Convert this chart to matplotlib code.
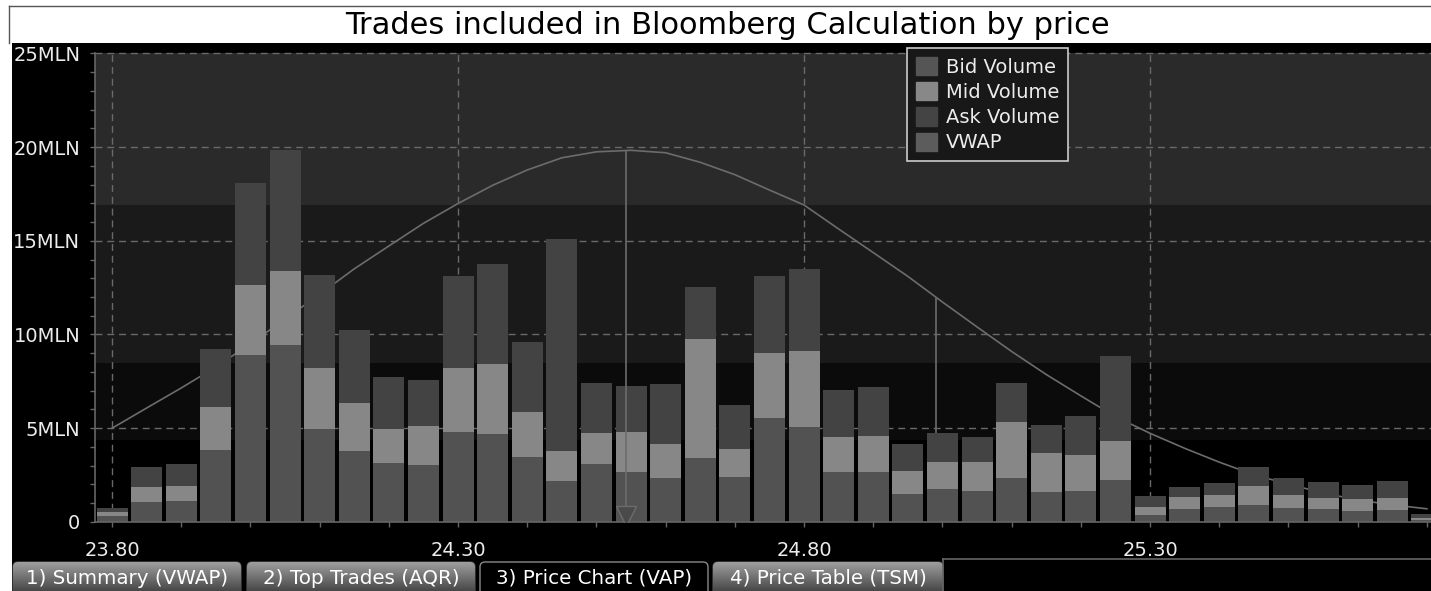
import matplotlib as mpl
mpl.use('Agg')
import matplotlib.pyplot as plt
import numpy as np
from matplotlib.patches import Rectangle, FancyBboxPatch, Patch
from matplotlib.ticker import FixedLocator, MultipleLocator, FuncFormatter

# price buckets (one bar per 0.05)
prices = [23.80, 23.85, 23.90, 23.95, 24.00, 24.05, 24.10, 24.15, 24.20, 24.25,
          24.30, 24.35, 24.40, 24.45, 24.50, 24.55, 24.60, 24.65, 24.70, 24.75,
          24.80, 24.85, 24.90, 24.95, 25.00, 25.05, 25.10, 25.15, 25.20, 25.25,
          25.30, 25.35, 25.40, 25.45, 25.50, 25.55, 25.60, 25.65, 25.70]
price_ticks = [23.80, 24.30, 24.80, 25.30]
volume_ticks = [0, 5, 10, 15, 20, 25]

# volumes in millions
bid_volume = [0.32, 1.05, 1.10, 3.81, 8.92, 9.42, 4.97, 3.79, 3.15, 3.01,
              4.81, 4.70, 3.47, 2.17, 3.10, 2.67, 2.35, 3.42, 2.39, 5.54,
              5.04, 2.68, 2.68, 1.46, 1.73, 1.64, 2.34, 1.60, 1.66, 2.23,
              0.37, 0.66, 0.79, 0.91, 0.72, 0.70, 0.57, 0.62, 0.10]
mid_volume = [0.18, 0.79, 0.80, 2.33, 3.70, 3.95, 3.25, 2.53, 1.78, 2.10,
              3.41, 3.70, 2.40, 1.62, 1.65, 2.13, 1.80, 6.33, 1.48, 3.48,
              4.09, 1.86, 1.90, 1.26, 1.47, 1.56, 2.98, 2.05, 1.92, 2.08,
              0.40, 0.67, 0.64, 0.98, 0.71, 0.57, 0.64, 0.65, 0.08]
ask_volume = [0.25, 1.08, 1.20, 3.10, 5.45, 6.48, 4.94, 3.90, 2.81, 2.46,
              4.91, 5.38, 3.74, 11.30, 2.67, 2.46, 3.19, 2.78, 2.34, 4.10,
              4.38, 2.49, 2.63, 1.43, 1.54, 1.30, 2.10, 1.53, 2.05, 4.54,
              0.59, 0.54, 0.64, 1.03, 0.90, 0.83, 0.77, 0.89, 0.21]

# distribution curve drawn behind the bars
dist_curve = [4.99, 6.07, 7.14, 8.26, 9.50, 10.82, 12.14, 13.50, 14.72, 15.93,
              16.99, 17.96, 18.78, 19.43, 19.75, 19.83, 19.70, 19.19, 18.53, 17.71,
              16.91, 15.63, 14.37, 13.10, 11.73, 10.40, 9.09, 7.86, 6.72, 5.61,
              4.72, 3.92, 3.18, 2.51, 2.00, 1.54, 1.16, 0.90, 0.69]

vwap_price = 24.543
second_price = 24.99
band_edges = [4.36, 8.49, 16.9, 25.0]
band_colors = ['#0b0b0b', '#1a1a1a', '#2a2a2a']

tab_labels = ['1) Summary (VWAP)', '2) Top Trades (AQR)', '3) Price Chart (VAP)', '4) Price Table (TSM)']
tab_edges = [(13, 241), (247, 475), (480, 708), (713, 943)]
selected_tab = 2

W, H = 1431, 591
fig = plt.figure(figsize=(W / 100, H / 100), dpi=100, facecolor='white')

# background / frame layer in pixel coordinates
bg = fig.add_axes([0, 0, 1, 1], zorder=-1)
bg.set_xlim(0, W)
bg.set_ylim(H, 0)
bg.axis('off')
bg.add_patch(Rectangle((12, 43), W - 12, H - 43, facecolor='black', edgecolor='none'))
bg.plot([9, W], [6, 6], color='#555555', lw=1)
bg.plot([9, 9], [6, 43], color='#555555', lw=1)
bg.text(727, 26, 'Trades included in Bloomberg Calculation by price',
        ha='center', va='center', fontsize=22, color='black')

# tabs
grad = np.linspace(0.62, 0.2, 64).reshape(-1, 1)
for i, (label, (x0, x1)) in enumerate(zip(tab_labels, tab_edges)):
    box = FancyBboxPatch((x0, 562), x1 - x0, 36, boxstyle='round,pad=0,rounding_size=5',
                         facecolor='black' if i == selected_tab else 'none',
                         edgecolor='#8a8a8a' if i == selected_tab else '#444444', lw=1)
    bg.add_patch(box)
    if i != selected_tab:
        im = bg.imshow(grad, extent=(x0, x1, 598, 562), cmap='gray', vmin=0, vmax=1,
                       aspect='auto', zorder=1)
        im.set_clip_path(box)
    bg.text((x0 + x1) / 2, 578, label, ha='center', va='center', fontsize=14.3,
            color='white', zorder=3)
bg.plot([943, W], [559, 559], color='#666666', lw=1.2)
bg.plot([943, 943], [559, H], color='#666666', lw=1.2)
bg.set_xlim(0, W)
bg.set_ylim(H, 0)

# main chart
y0_px, ytop_px = 521.7, 43
ax = fig.add_axes([95 / W, (H - y0_px) / H, (W - 95) / W, (y0_px - ytop_px) / H])
ax.set_facecolor('black')
x = np.array(prices)
xlim = (23.7754, 25.706)
ax.set_xlim(*xlim)
ax.set_ylim(0, 25.56)

for lo, hi, c in zip(band_edges[:-1], band_edges[1:], band_colors):
    ax.axhspan(lo, hi, color=c, zorder=0, lw=0)

grid_kw = dict(color='#6a6a6a', lw=1, linestyle=(0, (5, 3.5)), zorder=0.5)
ax.hlines(volume_ticks[1:], xlim[0], xlim[1], **grid_kw)
ax.vlines(price_ticks, 0, volume_ticks[-1], **grid_kw)

ax.plot(x, dist_curve, color='#6c6c6c', lw=1.2, zorder=1)
ax.vlines(second_price, 0, np.interp(second_price, x, dist_curve),
          color='#6c6c6c', lw=1.2, zorder=1)

bid = np.array(bid_volume)
mid = np.array(mid_volume)
ask = np.array(ask_volume)
w = 0.0448
ax.bar(x, bid, width=w, color='#525252', zorder=2, lw=0)
ax.bar(x, mid, width=w, bottom=bid, color='#878787', zorder=2, lw=0)
ax.bar(x, ask, width=w, bottom=bid + mid, color='#434343', zorder=2, lw=0)

ax.vlines(vwap_price, 0, np.interp(vwap_price, x, dist_curve), color='#6c6c6c', lw=1.2, zorder=3)
ax.plot([vwap_price], [0.3], marker='v', markersize=15, markerfacecolor='#4a4a4a',
        markeredgecolor='#6c6c6c', zorder=3)

for s in ['top', 'right']:
    ax.spines[s].set_visible(False)
for s in ['left', 'bottom']:
    ax.spines[s].set_color('#666666')
    ax.spines[s].set_linewidth(1.2)
ax.spines['left'].set_bounds(0, volume_ticks[-1])

ax.xaxis.set_major_locator(FixedLocator(price_ticks))
ax.xaxis.set_minor_locator(MultipleLocator(0.1))
ax.xaxis.set_major_formatter(FuncFormatter(lambda v, p: f'{v:.2f}'))
ax.yaxis.set_major_locator(FixedLocator(volume_ticks))
ax.yaxis.set_minor_locator(MultipleLocator(1))
ax.yaxis.set_major_formatter(FuncFormatter(lambda v, p: '0' if v == 0 else f'{int(round(v))}MLN'))
ax.tick_params(which='both', colors='#666666', length=3.6, width=1)
ax.tick_params(axis='y', which='major', pad=7, labelsize=14, labelcolor='#ececec')
ax.tick_params(axis='x', which='major', pad=10, labelsize=14, labelcolor='#ececec')

handles = [Patch(color='#555555'), Patch(color='#888888'), Patch(color='#444444'), Patch(color='#5c5c5c')]
leg = ax.legend(handles, ['Bid Volume', 'Mid Volume', 'Ask Volume', 'VWAP'],
                loc='upper left', bbox_to_anchor=(907 / W, (H - 48) / H),
                bbox_transform=fig.transFigure, fontsize=14, frameon=True, fancybox=False,
                facecolor='#181818', edgecolor='#cccccc', framealpha=1,
                handlelength=1.08, handleheight=1.08, handletextpad=0.45,
                labelspacing=0.28, borderpad=0.45, borderaxespad=0)
leg.get_frame().set_linewidth(1.2)
for t in leg.get_texts():
    t.set_color('#ececec')
leg.set_zorder(5)

fig.savefig('out.png', dpi=100, facecolor=fig.get_facecolor())
